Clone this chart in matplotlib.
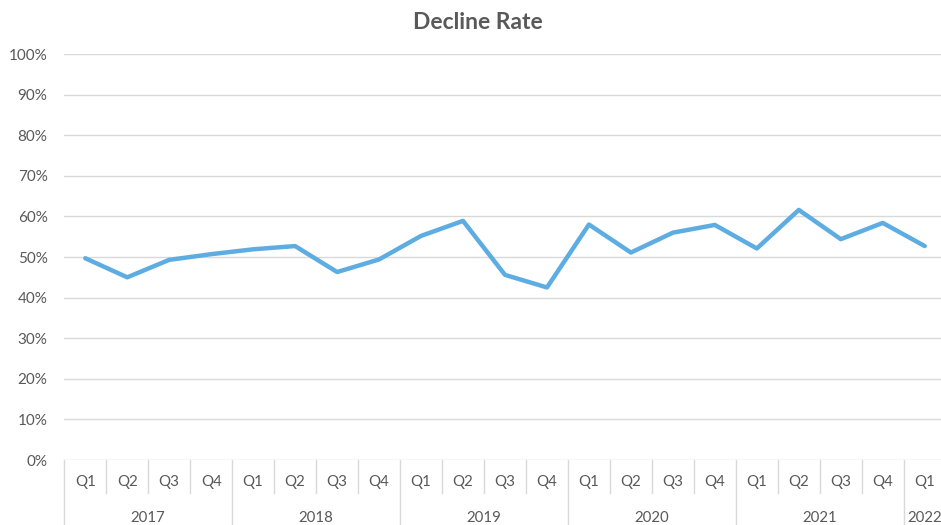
import matplotlib.pyplot as plt
from matplotlib.ticker import PercentFormatter
import matplotlib.transforms as mtransforms

plt.rcParams['font.family'] = ['Lato', 'DejaVu Sans']

# data
quarters = ['Q1', 'Q2', 'Q3', 'Q4'] * 5 + ['Q1']
years = ['2017', '2018', '2019', '2020', '2021', '2022']
year_counts = [4, 4, 4, 4, 4, 1]
decline_rate = [49.7, 45.0, 49.3, 50.7, 51.9, 52.7, 46.3, 49.4,
                55.2, 58.9, 45.6, 42.5, 58.0, 51.1, 56.0, 57.9,
                52.1, 61.6, 54.4, 58.4, 52.7]

text_color = '#595959'
grid_color = '#d9d9d9'
line_color = '#5dade2'

fig = plt.figure(figsize=(9.41, 5.25), dpi=100)
ax = fig.add_axes([0.0683, 0.1238, 0.9367, 0.7733])

x = list(range(len(decline_rate)))
ax.plot(x, decline_rate, color=line_color, linewidth=3.2, solid_joinstyle='round',
        solid_capstyle='round', zorder=3)

ax.set_xlim(-0.5, len(x) - 0.5)
ax.set_ylim(0, 100)
ax.set_yticks(range(0, 101, 10))
ax.yaxis.set_major_formatter(PercentFormatter(decimals=0))
ax.yaxis.grid(True, color=grid_color, linewidth=1.0, zorder=0)
ax.set_axisbelow(True)
for s in ax.spines.values():
    s.set_visible(False)
ax.tick_params(axis='y', length=0, pad=12, labelsize=11, labelcolor=text_color)
ax.set_xticks([])

# category axis with two levels
trans = mtransforms.blended_transform_factory(ax.transData, ax.transAxes)
px = 1 / 406.0
year_edges = [0]
for c in year_counts:
    year_edges.append(year_edges[-1] + c)
for i, q in enumerate(quarters):
    ax.text(i, -22 * px, q, transform=trans, ha='center', va='center',
            fontsize=10.8, color=text_color)
    if i not in year_edges:
        ax.plot([i - 0.5, i - 0.5], [0, -33 * px], transform=trans,
                color=grid_color, linewidth=1.0, clip_on=False)
for k, yr in enumerate(years):
    mid = (year_edges[k] + year_edges[k + 1] - 1) / 2
    ax.text(mid, -58 * px, yr, transform=trans, ha='center', va='center',
            fontsize=10.8, color=text_color)
for e in year_edges:
    ax.plot([e - 0.5, e - 0.5], [0, -70 * px], transform=trans,
            color=grid_color, linewidth=1.0, clip_on=False)

fig.text(0.508, 0.958, 'Decline Rate', ha='center', va='center',
         fontsize=16.5, fontweight='bold', color=text_color)

fig.savefig('out.png', dpi=100)
